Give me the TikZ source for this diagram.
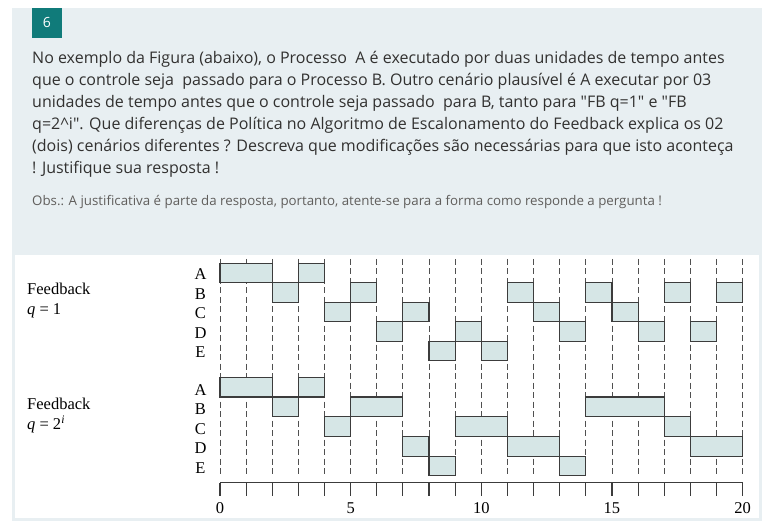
\documentclass[tikz,border=0pt]{standalone}
\usepackage{fontspec}
\setmainfont{Liberation Serif}
\newfontfamily\uifont{Open Sans}
\definecolor{panelbg}{RGB}{232,239,242}
\definecolor{badgeteal}{RGB}{16,123,122}
\definecolor{qtext}{RGB}{50,49,48}
\definecolor{obstext}{RGB}{96,94,92}
\definecolor{jobfill}{RGB}{214,230,230}
\definecolor{jobedge}{RGB}{60,60,60}
\definecolor{dashgray}{RGB}{80,80,80}
\tikzset{
  badge/.style={fill=badgeteal, text=white, minimum width=30pt, minimum height=30pt, inner sep=0pt, font=\uifont\fontsize{14}{14}\selectfont},
  qline/.style={anchor=base west, inner sep=0pt, text=qtext, font=\uifont\fontsize{16}{18}\selectfont},
  obsline/.style={anchor=base west, inner sep=0pt, text=obstext, font=\uifont\fontsize{13.3}{15}\selectfont},
  rowlabel/.style={anchor=base, inner sep=0pt, font=\fontsize{16.5}{18}\selectfont},
  fblabel/.style={anchor=base west, inner sep=0pt, font=\fontsize{16.5}{18}\selectfont},
  ticklabel/.style={anchor=base, inner sep=0pt, font=\fontsize{16.5}{18}\selectfont},
  jobbox/.style={fill=jobfill, draw=jobedge, line width=1.1pt},
  dashline/.style={draw=dashgray, line width=0.9pt, dash pattern=on 6pt off 3.5pt},
  axisline/.style={draw=jobedge, line width=1.1pt},
}
\begin{document}
\begin{tikzpicture}[x=1pt,y=-1pt]
\useasboundingbox (0,0) rectangle (779,529);
\fill[white] (0,0) rectangle (779,529);
\fill[panelbg] (12,8) rectangle (762,521);
\fill[white] (15,255) rectangle (759,518);
\node[badge] (badge) at (47,23) {6};
\node[qline] (l1) at (32,63.5) {No exemplo da Figura (abaixo), o Processo\ \ A é executado por duas unidades de tempo antes};
\node[qline] (l2) at (32,85.5) {que o controle seja\ \ passado para o Processo B. Outro cenário plausível é A executar por 03};
\node[qline] (l3) at (32,107.5) {unidades de tempo antes que o controle seja passado\ \ para B, tanto para "FB q=1" e "FB};
\node[qline] (l4) at (32,129.5) {q=2\textasciicircum i". Que diferenças de Política no Algoritmo de Escalonamento do Feedback explica os 02};
\node[qline] (l5) at (32,151.5) {(dois) cenários diferentes ? Descreva que modificações são necessárias para que isto aconteça};
\node[qline] (l6) at (32,173.5) {! Justifique sua resposta !};
\node[obsline] (obs) at (32,206) {Obs.: A justificativa é parte da resposta, portanto, atente-se para a forma como responde a pergunta !};
% dashed time grid
\foreach \k in {0,...,20} {
  \draw[dashline] ({220+26.13*\k},259) -- ({220+26.13*\k},476);
}
% chart 1: Feedback q=1
\foreach \r/\s/\e in {0/0/2, 1/2/3, 0/3/4, 2/4/5, 1/5/6, 3/6/7, 2/7/8, 4/8/9, 3/9/10, 4/10/11, 1/11/12, 2/12/13, 3/13/14, 1/14/15, 2/15/16, 3/16/17, 1/17/18, 3/18/19, 1/19/20} {
  \draw[jobbox] ({220+26.13*\s},{263.3+19.45*\r}) rectangle ({220+26.13*\e},{263.3+19.45*(\r+1)});
}
% chart 2: Feedback q=2^i
\foreach \r/\s/\e in {0/0/2, 1/2/3, 0/3/4, 2/4/5, 1/5/7, 3/7/8, 4/8/9, 2/9/11, 3/11/13, 4/13/14, 1/14/17, 2/17/18, 3/18/20} {
  \draw[jobbox] ({220+26.13*\s},{377.3+19.7*\r}) rectangle ({220+26.13*\e},{377.3+19.7*(\r+1)});
}
% row labels
\foreach \lab [count=\i from 0] in {A,B,C,D,E} {
  \node[rowlabel] (top\lab) at (200.5,{280+19.4*\i}) {\lab};
  \node[rowlabel] (bot\lab) at (200.5,{395+19.6*\i}) {\lab};
}
\node[fblabel] (fb1) at (27,295) {Feedback};
\node[fblabel] (q1) at (27,314.3) {\textit{q} = 1};
\node[fblabel] (fb2) at (27,409.3) {Feedback};
\node[fblabel] (q2) at (27,429.3) {\textit{q} = 2\textsuperscript{\textit{i}}};
% time axis
\draw[axisline] (220,482.7) -- (742.6,482.7);
\foreach \k in {0,...,20} {
  \draw[axisline] ({220+26.13*\k},482.7) -- ({220+26.13*\k},496);
}
\foreach \k in {0,5,10,15,20} {
  \node[ticklabel] (t\k) at ({220+26.13*\k},513.3) {\k};
}
\end{tikzpicture}
\end{document}
